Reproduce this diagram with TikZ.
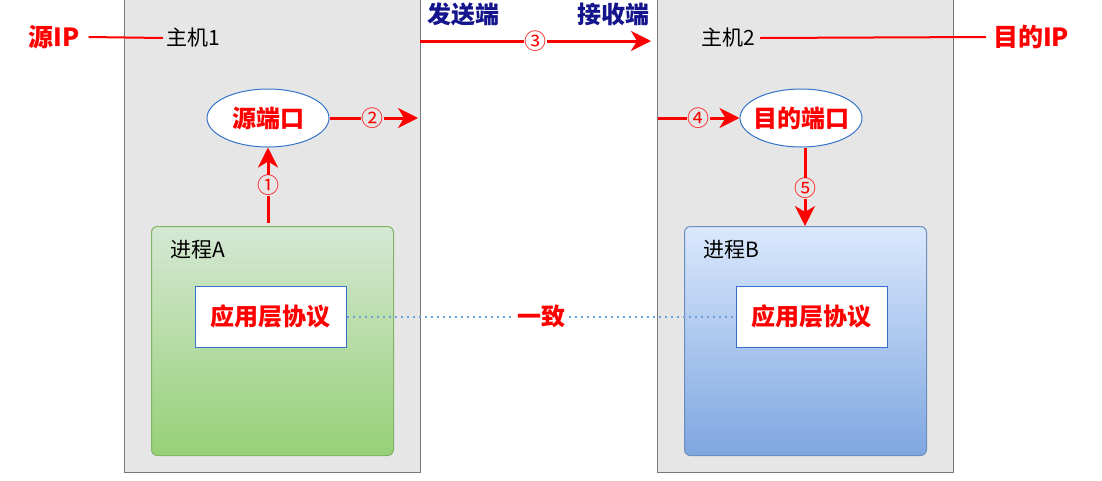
\documentclass[tikz,border=0pt]{standalone}
\usepackage{fontspec}
\newfontfamily\cjk{Noto Sans CJK SC}
\usetikzlibrary{arrows.meta,shapes.geometric}
\definecolor{hostgray}{RGB}{230,230,230}
\definecolor{hostline}{RGB}{120,120,120}
\definecolor{portblue}{RGB}{50,115,200}
\definecolor{navy}{RGB}{20,20,140}
\definecolor{gtop}{RGB}{213,232,212}
\definecolor{gbot}{RGB}{151,208,119}
\definecolor{gline}{RGB}{130,179,102}
\definecolor{btop}{RGB}{218,232,252}
\definecolor{bbot}{RGB}{126,166,224}
\definecolor{bline}{RGB}{108,142,191}
\definecolor{dotblue}{RGB}{110,160,220}
\begin{document}
\begin{tikzpicture}[x=1pt,y=-1pt,
  every node/.style={font=\cjk},
  host/.style={draw=hostline, fill=hostgray, line width=1pt, rectangle, anchor=north west, minimum width=296pt, minimum height=480pt, inner sep=0pt},
  iplbl/.style={text=red, font=\cjk\bfseries\fontsize{25}{28}\selectfont, inner sep=1pt},
  hostlbl/.style={text=black, font=\cjk\fontsize{21}{24}\selectfont, inner sep=1pt},
  endlbl/.style={text=navy, font=\cjk\bfseries\fontsize{24}{27}\selectfont, inner sep=1pt},
  port/.style={ellipse, draw=portblue, fill=white, line width=1pt, minimum width=122pt, minimum height=58pt, inner sep=0pt, text=red, font=\cjk\bfseries\fontsize{24}{27}\selectfont},
  proc/.style={rectangle, rounded corners=6pt, line width=1pt, anchor=north west, minimum width=242pt, minimum height=229pt, inner sep=0pt},
  procA/.style={proc, draw=gline, top color=gtop, bottom color=gbot},
  procB/.style={proc, draw=bline, top color=btop, bottom color=bbot},
  protbox/.style={rectangle, draw=portblue, fill=white, line width=1pt, minimum width=151pt, minimum height=61pt, inner sep=0pt, text=red, font=\cjk\bfseries\fontsize{24}{27}\selectfont},
  flow/.style={draw=red, line width=3pt, -{Stealth[length=20pt,width=20pt,inset=6pt]}},
  thin/.style={draw=red, line width=2pt},
  num/.style={text=red, font=\cjk\fontsize{22}{24}\selectfont, inner sep=0.5pt},
]
\useasboundingbox (0,0) rectangle (1102,480);
% host boxes
\node[host] (h1) at (124,-8) {};
\node[host] (h2) at (657,-8) {};
% labels
\node[iplbl] (srcip) at (54,37) {源IP};
\node[hostlbl] (host1) at (193,38) {主机1};
\node[hostlbl] (host2) at (728,38) {主机2};
\node[iplbl] (dstip) at (1031,37) {目的IP};
\node[endlbl] (send) at (463,14) {发送端};
\node[endlbl] (recv) at (613,14) {接收端};
% processes
\node[procA] (pA) at (151,226) {};
\node[procB] (pB) at (684,226) {};
\node[hostlbl] (pAl) at (198,250) {进程A};
\node[hostlbl] (pBl) at (731,250) {进程B};
\node[protbox] (protA) at (270.5,316.5) {应用层协议};
\node[protbox] (protB) at (811.5,316.5) {应用层协议};
% ports
\node[port] (port1) at (268,118) {\makebox[80pt]{源端口}};
\node[port] (port2) at (801,118) {\makebox[80pt]{目的端口}};
% coordinates
\coordinate (s3) at (420,41);
\coordinate (e3) at (651,41);
\coordinate (e2) at (418,118);
\coordinate (s4) at (658,118);
\coordinate (s1) at (268,223);
\coordinate (s5) at (805,148);
\coordinate (e5) at (805,226);
% connectors
\draw[thin] ([xshift=8pt]srcip.east) -- ([xshift=-2pt]host1.west);
\draw[thin] ([xshift=4pt]host2.east) -- ([xshift=-6pt]dstip.west);
\draw[draw=dotblue, line width=2pt, dash pattern=on 2.5pt off 3.5pt] (protA.east) -- node[fill=white, text=red, font=\cjk\bfseries\fontsize{24}{27}\selectfont, inner sep=2pt] (same) {一致} (protB.west);
\draw[flow] (s1) -- node[num, fill=hostgray, pos=0.5] (n1) {①} (port1.south);
\draw[flow] (port1.east) -- node[num, fill=hostgray, pos=0.49] (n2) {②} (e2);
\draw[flow] (s3) -- node[num, fill=white, pos=0.5] (n3) {③} (e3);
\draw[flow] (s4) -- node[num, fill=hostgray, pos=0.5] (n4) {④} (port2.west);
\draw[flow] (s5) -- node[num, fill=hostgray, pos=0.52] (n5) {⑤} (e5);
\end{tikzpicture}
\end{document}
